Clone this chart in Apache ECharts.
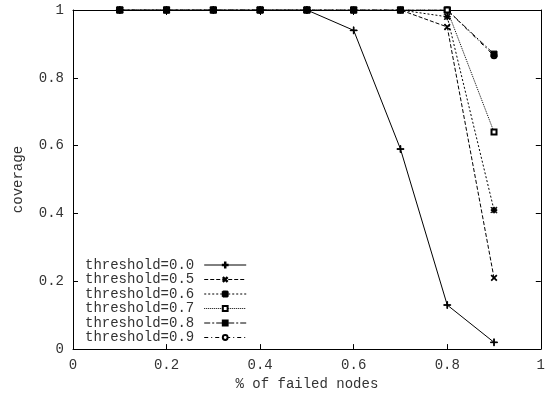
<!DOCTYPE html>
<html><head><meta charset="utf-8">
<script src="https://cdn.jsdelivr.net/npm/echarts@6/dist/echarts.min.js"></script>
<style>html,body{margin:0;padding:0;background:#fff}#c{width:548px;height:396px}</style>
</head><body><div id="c"></div>
<script>
var xValues = [0.1, 0.2, 0.3, 0.4, 0.5, 0.6, 0.7, 0.8, 0.9];
var seriesNames = ['threshold=0.0','threshold=0.5','threshold=0.6','threshold=0.7','threshold=0.8','threshold=0.9'];
var t00 = [1, 1, 1, 1, 1, 0.94, 0.59, 0.13, 0.02];
var t05 = [1, 1, 1, 1, 1, 1, 1, 0.95, 0.21];
var t06 = [1, 1, 1, 1, 1, 1, 1, 0.98, 0.41];
var t07 = [1, 1, 1, 1, 1, 1, 1, 1, 0.64];
var t08 = [1, 1, 1, 1, 1, 1, 1, 1, 0.87];
var t09 = [1, 1, 1, 1, 1, 1, 1, 1, 0.865];
var xTicks = [0, 0.2, 0.4, 0.6, 0.8, 1];
var yTicks = [0, 0.2, 0.4, 0.6, 0.8, 1];

var FONT = 'Liberation Mono';
var TXT = '#333';
var plus = 'path://M0,4.5H10V5.5H0Z M4.5,0H5.5V10H4.5Z';
var star = 'path://M0,4.4H10V5.6H0Z M4.4,0H5.6V10H4.4Z M1,0L10,9L9,10L0,1Z M9,0L10,1L1,10L0,9Z';
var styles = [
  {sym: plus, size: 7, rot: 0, dash: 'solid'},
  {sym: plus, size: 7, rot: 45, dash: [4, 2]},
  {sym: star, size: 6, rot: 0, dash: [2, 2]},
  {sym: 'emptyRect', size: 5, rot: 0, dash: [1, 1]},
  {sym: 'rect', size: 6, rot: 0, dash: [6, 2, 2, 2]},
  {sym: 'emptyCircle', size: 5, rot: 0, dash: [4, 3, 1, 3]}
];
var allData = [t00, t05, t06, t07, t08, t09];

var series = allData.map(function (vals, i) {
  var s = styles[i];
  return {
    name: seriesNames[i],
    type: 'line',
    data: vals.map(function (v, k) { return [xValues[k], v]; }),
    symbol: s.sym,
    symbolSize: s.size,
    symbolRotate: s.rot,
    showAllSymbol: true,
    lineStyle: {color: '#000', width: 1, type: s.dash},
    itemStyle: {color: '#000', borderColor: '#000', borderWidth: 1},
    emphasis: {disabled: true},
    z: 10 - i
  };
});

function axisCommon(extra) {
  var a = {
    type: 'value', min: 0, max: 1, interval: 0.2,
    axisLine: {show: true, onZero: false, lineStyle: {color: '#000', width: 1}},
    axisTick: {show: true, inside: true, length: 5, lineStyle: {color: '#000'}},
    splitLine: {show: false},
    axisLabel: {fontFamily: FONT, fontSize: 14, color: TXT, margin: 9}
  };
  for (var k in extra) a[k] = extra[k];
  return a;
}

var chart = echarts.init(document.getElementById('c'), null, {renderer: 'canvas'});
chart.setOption({
  animation: false,
  backgroundColor: '#fff',
  grid: {left: 73, right: 2, top: 10, bottom: 46, containLabel: false},
  xAxis: [
    axisCommon({position: 'bottom', name: '% of failed nodes', nameLocation: 'middle', nameGap: 23,
      nameTextStyle: {fontFamily: FONT, fontSize: 14, color: TXT}}),
    axisCommon({position: 'top', axisLabel: {show: false}})
  ],
  yAxis: [
    axisCommon({position: 'left', name: 'coverage', nameLocation: 'middle', nameGap: 48,
      nameTextStyle: {fontFamily: FONT, fontSize: 14, color: TXT}}),
    axisCommon({position: 'right', axisLabel: {show: false}})
  ],
  legend: {
    orient: 'vertical', left: 80, top: 253, align: 'right',
    itemWidth: 42, itemHeight: 6, itemGap: 0.5,
    lineStyle: {width: 1},
    textStyle: {fontFamily: FONT, fontSize: 14, color: TXT, lineHeight: 14, padding: [0, 5, 0, 0]},
    data: seriesNames
  },
  series: series
});
</script></body></html>
